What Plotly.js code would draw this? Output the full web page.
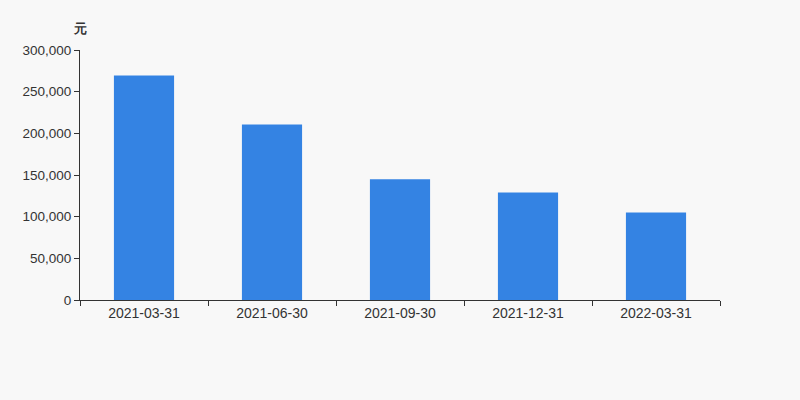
<!DOCTYPE html>
<html><head><meta charset="utf-8">
<script src="https://cdn.plot.ly/plotly-3.0.1.min.js"></script>
<style>body{margin:0;background:#f8f8f8}</style>
</head><body><div id="c" style="width:800px;height:400px"></div>
<script>
const categories = ["2021-03-31","2021-06-30","2021-09-30","2021-12-31","2022-03-31"];
const values = [269500, 210500, 145000, 129000, 105000];
const unitLabel = "元";

Plotly.newPlot("c", [{
  type: "bar", x: categories, y: values,
  marker: {color: "#3483e3"},
  hoverinfo: "x+y"
}], {
  width: 800, height: 400,
  paper_bgcolor: "#f8f8f8", plot_bgcolor: "#f8f8f8",
  margin: {l: 80, r: 80, t: 50, b: 100},
  bargap: 0.53,
  font: {family: "Liberation Sans, Arial, sans-serif", size: 13, color: "#333"},
  xaxis: {
    type: "category", tickson: "boundaries", ticks: "outside", ticklen: 5,
    tickcolor: "#333", showline: true, linecolor: "#333", linewidth: 1,
    showgrid: false, zeroline: false, fixedrange: true,
    tickfont: {size: 14, color: "#333"}
  },
  yaxis: {
    range: [0, 300000], dtick: 50000, tickformat: ",", ticks: "outside", ticklen: 5,
    tickcolor: "#333", showline: true, linecolor: "#333", linewidth: 1,
    showgrid: false, zeroline: false, fixedrange: true,
    tickfont: {size: 13.5, color: "#333"}
  },
  annotations: [{
    text: "<b>" + unitLabel + "</b>", xref: "paper", yref: "paper",
    x: 0, y: 1, xanchor: "center", yanchor: "bottom", yshift: 12, showarrow: false,
    font: {size: 13, color: "#333"}
  }],
  showlegend: false
}, {displayModeBar: false});
</script></body></html>
